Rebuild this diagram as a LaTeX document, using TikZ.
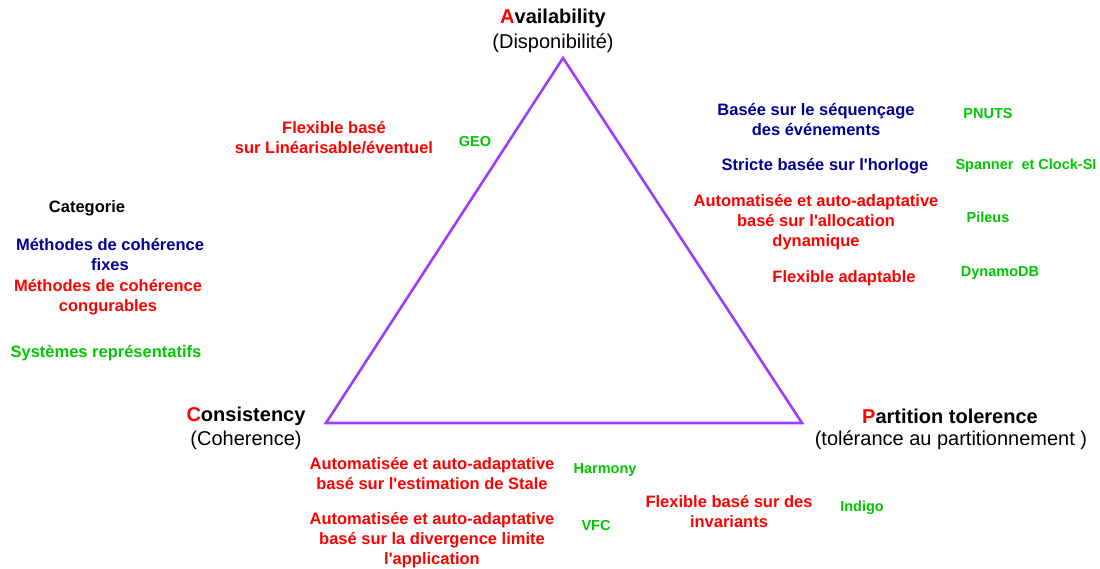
\documentclass[tikz,border=0pt]{standalone}
\usepackage{fontspec}
\setmainfont{Liberation Sans}[Ligatures=TeXOff]

\definecolor{fixblue}{RGB}{0,0,150}
\definecolor{cfgred}{RGB}{255,0,0}
\definecolor{sysgreen}{RGB}{0,200,0}
\definecolor{trianglevio}{RGB}{155,60,255}

\tikzset{
  vertex/.style={align=center,font=\fontsize{20}{24}\selectfont,inner sep=0pt},
  fixed/.style={align=center,text=fixblue,font=\fontsize{16.5}{20}\selectfont\bfseries,inner sep=0pt},
  config/.style={align=center,text=cfgred,font=\fontsize{16.5}{20}\selectfont\bfseries,inner sep=0pt},
  system/.style={align=center,text=sysgreen,font=\fontsize{14.5}{17}\selectfont\bfseries,inner sep=0pt},
}

\begin{document}
\begin{tikzpicture}[x=1pt,y=-1pt]
   \useasboundingbox (0,0) rectangle (1100,569);

   % the CAP triangle
   \coordinate (ta) at (563,58);
   \coordinate (tc) at (326,423);
   \coordinate (tp) at (802,423);
   \draw[trianglevio,line width=2.6pt,line join=miter] (ta) -- (tc) -- (tp) -- cycle;

   % vertex labels
   \node[vertex] (avail) at (553,18) {\textbf{{\color{red}A}vailability}};
   \node[vertex] (dispo) at (553,43) {(Disponibilit\'e)};
   \node[vertex] (consis) at (246,416) {\textbf{{\color{red}C}onsistency}};
   \node[vertex] (coher) at (246,440) {(Coherence)};
   \node[vertex] (parti) at (950,416) {\textbf{{\color{red}P}artition tolerence}};
   \node[vertex] (tolpar) at (951,440) {(tol\'erance au partitionnement )};

   % legend
   \node[fixed,text=black] (cat) at (87,208) {Categorie};
   \node[fixed] (legfix) at (110,255) {Méthodes de cohérence\\fixes};
   \node[config] (legcfg) at (108,297) {Méthodes de cohérence\\congurables};
   \node[system,font=\fontsize{16.5}{20}\selectfont\bfseries] (legsys) at (106,353) {Systèmes représentatifs};

   % between A and C
   \node[config] (linea) at (334,138) {Flexible basé\\sur Linéarisable/éventuel};
   \node[system] (geo) at (475,142) {GEO};

   % between A and P
   \node[fixed] (seq) at (816,120) {Basée sur le séquençage\\des événements};
   \node[system] (pnuts) at (988,114) {PNUTS};
   \node[fixed] (horl) at (825,166) {Stricte basée sur l'horloge};
   \node[system] (spanner) at (1026,166) {Spanner\ \ et Clock-SI};
   \node[config] (alloc) at (816,222) {Automatisée et auto-adaptative\\basé sur l'allocation\\dynamique};
   \node[system] (pileus) at (988,217) {Pileus};
   \node[config] (adapt) at (844,278) {Flexible adaptable};
   \node[system] (dynamo) at (1000,273) {DynamoDB};

   % between C and P
   \node[config] (stale) at (432,474) {Automatisée et auto-adaptative\\basé sur l'estimation de Stale};
   \node[system] (harmony) at (605,470) {Harmony};
   \node[config] (diverg) at (432,540) {Automatisée et auto-adaptative\\basé sur la divergence limite\\l'application};
   \node[system] (vfc) at (596,526) {VFC};
   \node[config] (invar) at (729,512) {Flexible basé sur des\\invariants};
   \node[system] (indigo) at (862,508) {Indigo};
\end{tikzpicture}
\end{document}
